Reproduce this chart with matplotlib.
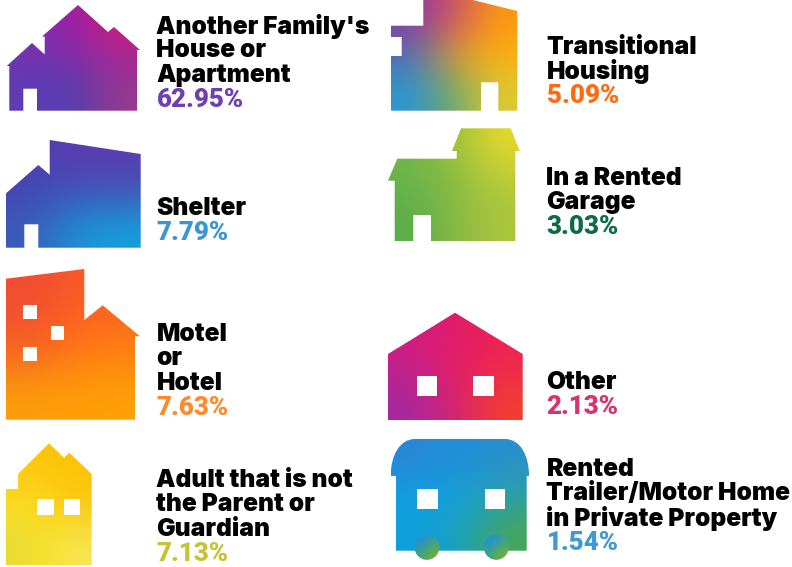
import numpy as np
import matplotlib
matplotlib.use('Agg')
import matplotlib.pyplot as plt
from matplotlib.patches import Polygon, PathPatch, Circle, Rectangle
from matplotlib.path import Path
from matplotlib.colors import to_rgb

# labels and values
labels_left = [['Another Family\'s', 'House or', 'Apartment'], ['Shelter'], ['Motel', 'or', 'Hotel'],
               ['Adult that is not', 'the Parent or', 'Guardian']]
values_left = ['62.95%', '7.79%', '7.63%', '7.13%']
colors_left = ['#6f3fb2', '#3b95d3', '#ff8a2b', '#c8c236']
first_line_left = [24, 206, 332, 478]

labels_right = [['Transitional', 'Housing'], ['In a Rented', 'Garage'], ['Other'],
                ['Rented', 'Trailer/Motor Home', 'in Private Property']]
values_right = ['5.09%', '3.03%', '2.13%', '1.54%']
colors_right = ['#ff6a13', '#0e6b45', '#d8336f', '#3f9ad3']
first_line_right = [45, 176, 380, 467]

SIZE = 17.7
VALUE_SIZE = 18.6
LINE = 24.4

fig = plt.figure(figsize=(7.92, 5.67), dpi=100)
ax = fig.add_axes([0, 0, 1, 1])
ax.set_xlim(0, 792)
ax.set_ylim(567, 0)
ax.axis('off')


def gradient(artist, extent, grid):
    # small colour grid, smoothed by imshow and clipped to the shape
    g = np.array([[to_rgb(c) for c in row] for row in grid])
    x0, x1, y0, y1 = extent
    im = ax.imshow(g, extent=(x0, x1, y1, y0), interpolation='bicubic', aspect='auto', zorder=2)
    im.set_clip_path(artist)
    return im


def house(points, grid):
    pts = np.array(points)
    p = Polygon(pts, closed=True, fc='none', ec='none', transform=ax.transData)
    ax.add_patch(p)
    gradient(p, (pts[:, 0].min(), pts[:, 0].max(), pts[:, 1].min(), pts[:, 1].max()), grid)


def window(x0, y0, x1, y1):
    ax.add_patch(Rectangle((x0, y0), x1 - x0, y1 - y0, fc='white', ec='none', zorder=5))


# another family's house
house([(6.7, 66), (32, 43), (44.7, 54.5), (44.7, 36.5), (42, 36.5), (78, 5), (108, 32), (114, 27), (140, 50),
       (137, 50), (137, 110.7), (37, 110.7), (37, 88.7), (23.3, 88.7), (23.3, 110.7), (9.3, 110.7), (9.3, 66)],
      [['#8a2cb0', '#9a1fa8', '#d81b72'],
       ['#6d35b0', '#7e30a8', '#a3289a'],
       ['#5f3db4', '#4c3fb0', '#9a3a8c']])

# transitional housing
house([(423.3, 0), (472.7, 0), (517.3, 11), (517.3, 110.7), (498.3, 110.7), (498.3, 82.3), (481, 82.3),
       (481, 110.7), (390.7, 110.7), (390.7, 56), (401.7, 56), (401.7, 37), (390.7, 37), (390.7, 25.7),
       (423.3, 25.7)],
      [['#8a3aa0', '#d0506a', '#ff9810'],
       ['#4c70b8', '#d8a030', '#fbb010'],
       ['#2a98d4', '#70a868', '#e0cc30']])

# shelter
house([(6, 193.3), (38.3, 165), (49.7, 174.7), (49.7, 140), (140.7, 154), (140.7, 247.7), (38.3, 247.7),
       (38.3, 224.3), (24.3, 224.3), (24.3, 247.7), (6, 247.7)],
      [['#4a40ae', '#5a3cb0', '#5c3cb0'],
       ['#4448b4', '#3c58bc', '#3f5cbc'],
       ['#3c5ab8', '#1f90d4', '#14a0dc']])

# rented garage
house([(388, 180.7), (397.3, 158.7), (456.7, 158.7), (456.7, 151), (452, 151), (461, 128.3), (510.7, 128.3),
       (519.7, 151), (515.3, 151), (515.3, 241.3), (431, 241.3), (431, 215), (413.3, 215), (413.3, 241.3),
       (394.7, 241.3), (394.7, 180.7)],
      [['#70b548', '#98c03e', '#e8d82c'],
       ['#66b34c', '#88ba44', '#b4ca3a'],
       ['#58ac4c', '#84b844', '#aec63e']])

# motel
house([(6, 278.7), (84.3, 269), (84.3, 320), (102.7, 305.3), (140, 336.3), (135, 336.3), (135, 419.7),
       (6, 419.7)],
      [['#f04c34', '#f8562a', '#ff6020'],
       ['#f65a26', '#ff7018', '#ff7a14'],
       ['#fba00a', '#ffa006', '#ffa206']])
for w in [(23.3, 305.3, 37, 319), (51, 326, 64.3, 339.7), (23.3, 347, 37, 360.7)]:
    window(*w)

# other
house([(388, 354), (455, 312.7), (522.7, 354), (522.7, 420.3), (388, 420.3)],
      [['#d01c80', '#e01c6c', '#f02050'],
       ['#c4208c', '#e81c64', '#ee2a50'],
       ['#a42aa0', '#d82074', '#f4402c']])
for w in [(416.7, 375.7, 437.3, 396.3), (473, 375.7, 493.7, 396.3)]:
    window(*w)

# adult
house([(6, 489), (18, 489), (18, 474), (49, 443.3), (64, 457.7), (69.3, 452.7), (91.7, 474), (91.7, 565),
       (6, 565)],
      [['#fdc60c', '#fec408', '#fec208'],
       ['#fadf28', '#fcd418', '#fcc80e'],
       ['#e8dc34', '#f8e430', '#f8e654']])
for w in [(37.3, 498.7, 53.7, 515), (64, 498.7, 80.3, 515)]:
    window(*w)

# trailer
v = [(390.7, 476), (390.7, 455), (400, 439), (415, 439), (505, 439), (520, 439), (529, 455), (529, 476),
     (526.7, 476), (526.7, 550.7), (396, 550.7), (396, 476), (390.7, 476)]
codes = [Path.MOVETO, Path.CURVE4, Path.CURVE4, Path.CURVE4, Path.LINETO, Path.CURVE4, Path.CURVE4, Path.CURVE4,
         Path.LINETO, Path.LINETO, Path.LINETO, Path.LINETO, Path.CLOSEPOLY]
trailer = PathPatch(Path(v, codes), fc='none', ec='none')
ax.add_patch(trailer)
gradient(trailer, (390.7, 529, 439, 550.7),
         [['#2a86d4', '#1f8fdc', '#2a90cc'],
          ['#0f9fe4', '#14a0dc', '#2aa0a8'],
          ['#10a0dc', '#18a0c0', '#4aa850']])
for w in [(417.3, 489, 437.7, 509), (485, 489, 505, 509)]:
    window(*w)
for cx in [427, 496.3]:
    c = Circle((cx, 547.3), 12.5, fc='none', ec='none')
    ax.add_patch(c)
    im = gradient(c, (cx - 12.5, cx + 12.5, 534.8, 559.8),
                  [['#2090e0', '#2a94c8', '#40a090'],
                   ['#2a98b0', '#3ea480', '#5aaa58'],
                   ['#40a480', '#5caa50', '#84ae3c']])
    im.set_zorder(4)


def block(x, first, lines, value, color):
    y = first
    for line in lines:
        ax.text(x, y, line, family='Inter', weight='black', size=SIZE, color='black', va='center_baseline', ha='left')
        y += LINE
    ax.text(x, y, value, family='Roboto', weight='black', size=VALUE_SIZE, color=color, va='center_baseline', ha='left')


for i in range(4):
    block(156.5, first_line_left[i], labels_left[i], values_left[i], colors_left[i])
    block(546.5, first_line_right[i], labels_right[i], values_right[i], colors_right[i])

fig.savefig('out.png', dpi=100)
